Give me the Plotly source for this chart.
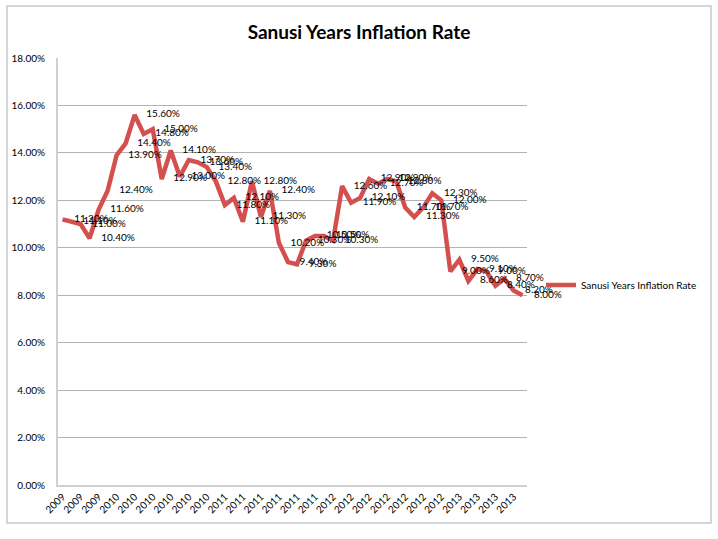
import plotly.graph_objects as go

# Monthly inflation rate (%) during the Sanusi years
values = [11.2, 11.1, 11.0, 10.4, 11.6, 12.4, 13.9, 14.4, 15.6, 14.8, 15.0, 12.9,
          14.1, 13.0, 13.7, 13.6, 13.4, 12.8, 11.8, 12.1, 11.1, 12.8, 11.3, 12.4,
          10.2, 9.4, 9.3, 10.3, 10.5, 10.5, 10.3, 12.6, 11.9, 12.1, 12.9, 12.7,
          12.9, 12.8, 11.7, 11.3, 11.7, 12.3, 12.0, 9.0, 9.5, 8.6, 9.1, 9.0,
          8.4, 8.7, 8.2, 8.0]
# Axis labels shown for every other category
tick_labels = ["2009", "2009", "2009",
               "2010", "2010", "2010", "2010", "2010", "2010",
               "2011", "2011", "2011", "2011", "2011", "2011",
               "2012", "2012", "2012", "2012", "2012", "2012", "2012",
               "2013", "2013", "2013", "2013"]
series_name = "Sanusi Years Inflation Rate"
chart_title = "Sanusi Years Inflation Rate"

x_idx = list(range(len(values)))
tick_vals = [2 * i for i in range(len(tick_labels))]
labels = [f"{v:.2f}%" for v in values]

FONT = "Lato"
RED = "#d4504f"

fig = go.Figure()
fig.add_trace(go.Scatter(
    x=x_idx, y=values, name=series_name,
    mode="lines+markers+text",
    line=dict(color=RED, width=4.5),
    marker=dict(size=17, color="rgba(0,0,0,0)", line=dict(width=0)),
    text=labels, textposition="middle right",
    textfont=dict(family=FONT, size=10, color="#000000"),
    cliponaxis=False,
    hoverinfo="skip",
))

L, R, T, B = 58, 527, 58, 485
W, H = 718, 539

def px2paper_x(px):
    return (px - L) / (R - L)

def px2paper_y(py):
    return (B - py) / (B - T)

fig.update_layout(
    width=W, height=H,
    margin=dict(l=L, r=W - R, t=T, b=H - B),
    paper_bgcolor="white", plot_bgcolor="white",
    font=dict(family=FONT, size=10, color="#000000"),
    title=dict(text="<b>" + chart_title + "</b>", x=0.5, xref="container",
               y=1 - 32 / H, yref="container", yanchor="middle", xanchor="center",
               font=dict(family=FONT, size=19, color="#000000")),
    showlegend=True,
    legend=dict(x=px2paper_x(541), y=px2paper_y(285), xanchor="left", yanchor="middle",
                font=dict(family=FONT, size=10, color="#000000"),
                bgcolor="rgba(0,0,0,0)", itemwidth=30),
    xaxis=dict(range=[-0.5, len(values) - 0.5], tickvals=tick_vals, ticktext=tick_labels,
               tickangle=-45, showgrid=False, zeroline=False,
               showline=True, linecolor="#d0d0d0", linewidth=2,
               ticks="", tickfont=dict(family=FONT, size=10, color="#000000")),
    yaxis=dict(range=[0, 18], dtick=2, tickformat=".2f", ticksuffix="%",
               showgrid=True, gridcolor="#b3b3b3", gridwidth=1, zeroline=False,
               showline=True, linecolor="#d0d0d0", linewidth=2,
               ticks="", ticklabelstandoff=9,
               tickfont=dict(family=FONT, size=10, color="#000000")),
    shapes=[dict(type="rect", xref="paper", yref="paper",
                 x0=px2paper_x(7), x1=px2paper_x(711),
                 y0=px2paper_y(523), y1=px2paper_y(6),
                 line=dict(color="#c8c8c8", width=1.5), layer="below")],
)

fig.write_html("out.html")
